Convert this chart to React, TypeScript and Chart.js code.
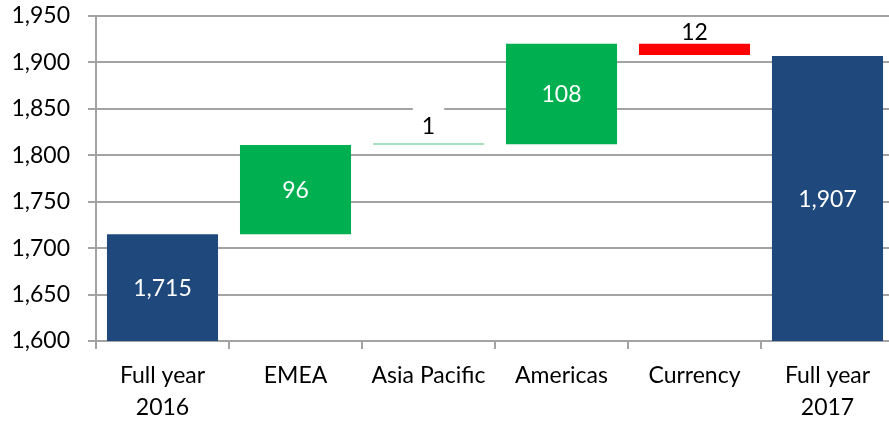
import React, { useEffect, useRef } from "react";
import { Chart, registerables } from "chart.js";

Chart.register(...registerables);

const categories: (string | string[])[] = [
  ["Full year", "2016"],
  "EMEA",
  "Asia Pacific",
  "Americas",
  "Currency",
  ["Full year", "2017"],
];
// start total, deltas, end total
const startTotal = 1715;
const deltas = [96, 1, 108, -12];
const endTotal = 1907;
const yTicks = [1600, 1650, 1700, 1750, 1800, 1850, 1900, 1950];

const NAVY = "#1f497d";
const GREEN = "#00b050";
const LIGHT_GREEN = "#a6e0bd";
const RED = "#ff0000";
const GRID = "#a3a3a3";
const FONT = "Lato";

function buildData() {
  const ranges: [number, number][] = [];
  const labels: string[] = [];
  const colors: string[] = [];
  const inside: boolean[] = [];
  const negative: boolean[] = [];
  const base = yTicks[0];
  ranges.push([base, startTotal]);
  labels.push(startTotal.toLocaleString("en-US"));
  colors.push(NAVY);
  inside.push(true);
  negative.push(false);
  let cum = startTotal;
  deltas.forEach((d) => {
    const next = cum + d;
    ranges.push([Math.min(cum, next), Math.max(cum, next)]);
    labels.push(Math.abs(d).toLocaleString("en-US"));
    colors.push(d < 0 ? RED : Math.abs(d) < 5 ? LIGHT_GREEN : GREEN);
    inside.push(Math.abs(d) >= 30);
    negative.push(d < 0);
    cum = next;
  });
  ranges.push([base, endTotal]);
  labels.push(endTotal.toLocaleString("en-US"));
  colors.push(NAVY);
  inside.push(true);
  negative.push(false);
  return { ranges, labels, colors, inside, negative };
}

export default function App() {
  const ref = useRef<HTMLCanvasElement | null>(null);
  useEffect(() => {
    if (!ref.current) return;
    const { ranges, labels, colors, inside, negative } = buildData();
    const labelPlugin = {
      id: "wfLabels",
      afterDatasetsDraw(chart: any) {
        const ctx = chart.ctx;
        const area = chart.chartArea;
        const meta = chart.getDatasetMeta(0);
        ctx.save();
        ctx.font = `23px ${FONT}`;
        ctx.textAlign = "center";
        ctx.textBaseline = "middle";
        meta.data.forEach((el: any, i: number) => {
          const top = Math.min(el.y, el.base);
          const bot = Math.max(el.y, el.base);
          if (inside[i]) {
            ctx.fillStyle = "#ffffff";
            ctx.fillText(labels[i], el.x, (top + bot) / 2 + 1);
          } else {
            const cy = top - (negative[i] ? 12 : 17);
            const w = ctx.measureText(labels[i]).width + 18;
            const boxTop = Math.max(cy - 20, area.top + 2);
            ctx.fillStyle = "#ffffff";
            ctx.fillRect(el.x - w / 2, boxTop, w, cy + 11 - boxTop);
            ctx.fillStyle = "#000000";
            ctx.fillText(labels[i], el.x, cy + 1);
          }
        });
        ctx.restore();
      },
    };
    const chart = new Chart(ref.current, {
      type: "bar",
      data: {
        labels: categories as any,
        datasets: [
          {
            data: ranges as any,
            backgroundColor: colors,
            borderWidth: 0,
            barPercentage: 0.835,
            categoryPercentage: 1,
            minBarLength: 2,
          },
        ],
      },
      options: {
        responsive: false,
        animation: false,
        layout: { padding: { top: 16, right: 6, left: 0, bottom: 0 } },
        plugins: {
          legend: { display: false },
          title: { display: false },
          tooltip: { enabled: false },
        },
        scales: {
          x: {
            grid: {
              offset: true,
              drawOnChartArea: false,
              drawTicks: true,
              tickLength: 8,
              color: GRID,
              lineWidth: 2,
            },
            border: { display: true, color: GRID, width: 2 },
            ticks: {
              color: "#000",
              padding: 11,
              maxRotation: 0,
              autoSkip: false,
              font: { family: FONT, size: 23, lineHeight: 1.39 },
            },
            afterFit: (s: any) => {
              s.height = 81;
              s.paddingLeft = 0;
              s.paddingRight = 0;
            },
          },
          y: {
            min: yTicks[0],
            max: yTicks[yTicks.length - 1],
            afterBuildTicks: (s: any) => {
              s.ticks = yTicks.map((v) => ({ value: v }));
            },
            grid: {
              color: GRID,
              lineWidth: 2,
              tickLength: 8,
            },
            border: { display: true, color: GRID, width: 2 },
            ticks: {
              color: "#000",
              padding: 18,
              font: { family: FONT, size: 23 },
              callback: (v: any) => Number(v).toLocaleString("en-US"),
            },
            afterFit: (s: any) => {
              s.width = 96;
              s.paddingTop = 0;
              s.paddingBottom = 0;
            },
          },
        },
      },
      plugins: [labelPlugin],
    });
    return () => chart.destroy();
  }, []);
  return (
    <div
      style={{
        position: "fixed",
        left: 0,
        top: 0,
        width: 889,
        height: 422,
        overflow: "hidden",
        background: "#fff",
      }}
    >
      <canvas ref={ref} width={900} height={422} style={{ display: "block" }} />
    </div>
  );
}
